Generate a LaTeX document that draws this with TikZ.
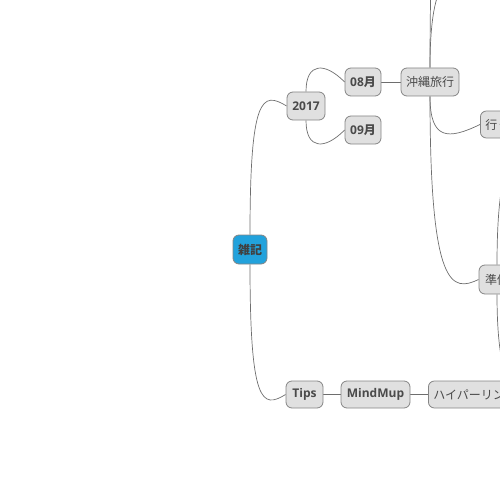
\documentclass[tikz,border=0pt]{standalone}
\usepackage{fontspec}
\setmainfont{Open Sans}
\newfontfamily\cjk{Noto Sans CJK JP}
\usetikzlibrary{backgrounds}
\definecolor{nodefill}{HTML}{E0E0E0}
\definecolor{nodeline}{HTML}{858585}
\definecolor{linecol}{HTML}{6E6E6E}
\definecolor{txtcol}{HTML}{4A4A4A}
\definecolor{rootfill}{HTML}{22A2DC}
\begin{document}
\begin{tikzpicture}[x=1pt,y=-1pt,
  mm/.style={draw=nodeline, fill=nodefill, rounded corners=6pt, minimum height=28pt,
    inner sep=0pt, text=txtcol, font=\fontsize{12}{14}\selectfont, line width=0.8pt},
  rootnode/.style={mm, fill=rootfill, text=black!75},
  conn/.style={draw=linecol, line width=0.7pt}]
\useasboundingbox (0,0) rectangle (500,500);
\clip (0,0) rectangle (500,500);

\node[rootnode, minimum width=34pt, minimum height=29pt] (root) at (250,249.5) {\bfseries\cjk 雑記};
\node[mm, minimum width=38pt] (y2017) at (306,106) {\bfseries 2017};
\node[mm, minimum width=36pt] (m08) at (363,82) {\bfseries 08\cjk 月};
\node[mm, minimum width=36pt] (m09) at (363,130) {\bfseries 09\cjk 月};
\node[mm, minimum width=58pt] (oki) at (430,82) {\cjk 沖縄旅行};
\node[mm, anchor=west, inner xsep=5pt, minimum height=27pt] (iku) at (480,124.5) {\cjk 行くところ};
\node[mm, minimum width=36pt, minimum height=29pt] (jun) at (497,279.5) {\cjk 準備};
\node[mm, minimum width=37pt, minimum height=27pt] (tips) at (304.5,394.5) {\bfseries Tips};
\node[mm, minimum width=69pt, minimum height=27pt] (mmup) at (375.5,394.5) {\bfseries MindMup};
\node[mm, anchor=west, inner xsep=5pt, minimum height=27pt] (hyper) at (428,394.5) {\cjk ハイパーリンク};

\coordinate (up1) at (479,-20);
\coordinate (up2) at (479,-188);
\coordinate (jup) at (545,150);
\coordinate (jdown) at (545,390);

\begin{scope}[on background layer]
\draw[conn] (root.north) .. controls (250,96) and (262,91) .. (y2017.west);
\draw[conn] (root.south) .. controls (250,404) and (262,409) .. (tips.west);
\draw[conn] (y2017.north) .. controls (306,62) and (325,62) .. (m08.west);
\draw[conn] (y2017.south) .. controls (306,150) and (325,150) .. (m09.west);
\draw[conn] (m08.east) -- (oki.west);
\draw[conn] (oki.south) .. controls (430,140) and (448,140) .. (iku.west);
\draw[conn] (oki.south) .. controls (430,290) and (452,292) .. (jun.west);
\draw[conn] (oki.north) .. controls (430,-30) and (452,-32) .. (up1);
\draw[conn] (oki.north) .. controls (430,-198) and (452,-200) .. (up2);
\draw[conn] (jun.north) .. controls (497,140) and (520,138) .. (jup);
\draw[conn] (jun.south) .. controls (497,400) and (520,402) .. (jdown);
\draw[conn] (tips.east) -- (mmup.west);
\draw[conn] (mmup.east) -- (hyper.west);
\end{scope}
\end{tikzpicture}
\end{document}
